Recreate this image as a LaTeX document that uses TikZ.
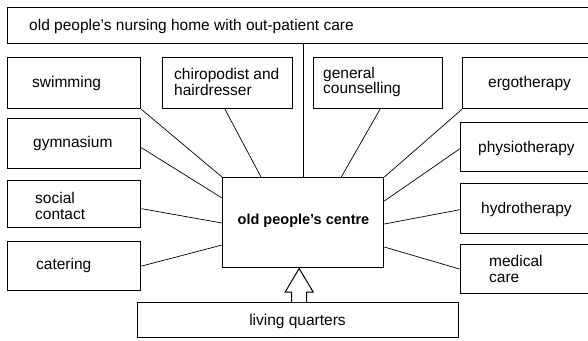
\documentclass[tikz,border=0pt]{standalone}
\usepackage{fontspec}
\setmainfont{Liberation Sans}
\usetikzlibrary{calc}
\newcommand\mybx[5]{\node[box, minimum width={#4-#2}, minimum height={#5-#3}] (#1) at (#2,#3) {};}
\begin{document}
\begin{tikzpicture}[x=1pt,y=-1pt,
  box/.style={draw, line width=1.3pt, anchor=north west, inner sep=0pt},
  lbl/.style={anchor=west, align=left, inner sep=0pt, font=\fontsize{15.5}{15.5}\selectfont},
  conn/.style={line width=0.7pt},
  blockarrow/.style={line width=1pt, fill=white, line join=miter},
]
\useasboundingbox (0,0) rectangle (588,340);
\fill[white] (0,0) rectangle (588,340);
\clip (0,0) rectangle (588,340);

\mybx{top}{7}{7}{600}{43}
\mybx{swim}{7}{57}{140}{108}
\mybx{chiro}{162}{57}{292}{108}
\mybx{gen}{313}{57}{442}{108}
\mybx{ergo}{462}{57}{600}{108}
\mybx{gym}{7}{118}{140}{168}
\mybx{soc}{7}{180}{140}{227}
\mybx{cat}{7}{241}{140}{290}
\mybx{phy}{460}{122}{600}{171}
\mybx{hyd}{460}{183}{600}{233}
\mybx{med}{460}{244}{600}{293}
\mybx{centre}{222}{177}{383}{267}
\mybx{liv}{137}{302}{458}{337}

\node[lbl] (ttop) at (29,26) {old people’s nursing home with out-patient care};
\node[lbl] (tswim) at (32,83) {swimming};
\node[lbl] (tchiro) at (174,82) {chiropodist and\\hairdresser};
\node[lbl] (tgen) at (323,82) {general\\counselling};
\node[lbl] (tergo) at (488,83) {ergotherapy};
\node[lbl] (tgym) at (33,143) {gymnasium};
\node[lbl] (tsoc) at (35,206) {social\\contact};
\node[lbl] (tcat) at (36,265) {catering};
\node[lbl] (tphy) at (478,148) {physiotherapy};
\node[lbl] (thyd) at (481,209) {hydrotherapy};
\node[lbl] (tmed) at (489,269) {medical\\care};
\node[lbl, anchor=center, font=\bfseries\fontsize{14.5}{14.5}\selectfont] (tcentre) at (303.5,221) {old people’s centre};
\node[lbl, anchor=center] (tliv) at (297.5,321) {living quarters};

% connectors
\draw[conn, line width=0.6pt] (centre.north |- top.south) -- (centre.north);
\draw[conn] (swim.south east) -- (centre.north west);
\draw[conn] ([xshift=63]chiro.south west) -- ([xshift=39]centre.north west);
\draw[conn] ([xshift=67]gen.south west) -- ([xshift=-43]centre.north east);
\draw[conn] (ergo.south west) -- (centre.north east);
\draw[conn] ([yshift=-4]gym.east) -- ([yshift=-21]centre.north west);
\draw[conn] ([yshift=-4.5]soc.east) -- ([yshift=-46]centre.north west);
\draw[conn] (cat.east) -- ([yshift=-68]centre.north west);
\draw[conn] ([yshift=-1.5]phy.west) -- ([yshift=-24]centre.north east);
\draw[conn] ([yshift=-1]hyd.west) -- ([yshift=-47]centre.north east);
\draw[conn] (med.west) -- ([yshift=-70]centre.north east);

% hollow block arrow from living quarters to centre
\coordinate (ab) at ([xshift=1]liv.north);
\draw[blockarrow] ($(ab)+(-7.5,0)$) -- ++(0,-10) -- ++(-6.5,0) -- ++(14,-23.5) -- ++(14,23.5) -- ++(-6.5,0) -- ++(0,10);
\end{tikzpicture}
\end{document}
